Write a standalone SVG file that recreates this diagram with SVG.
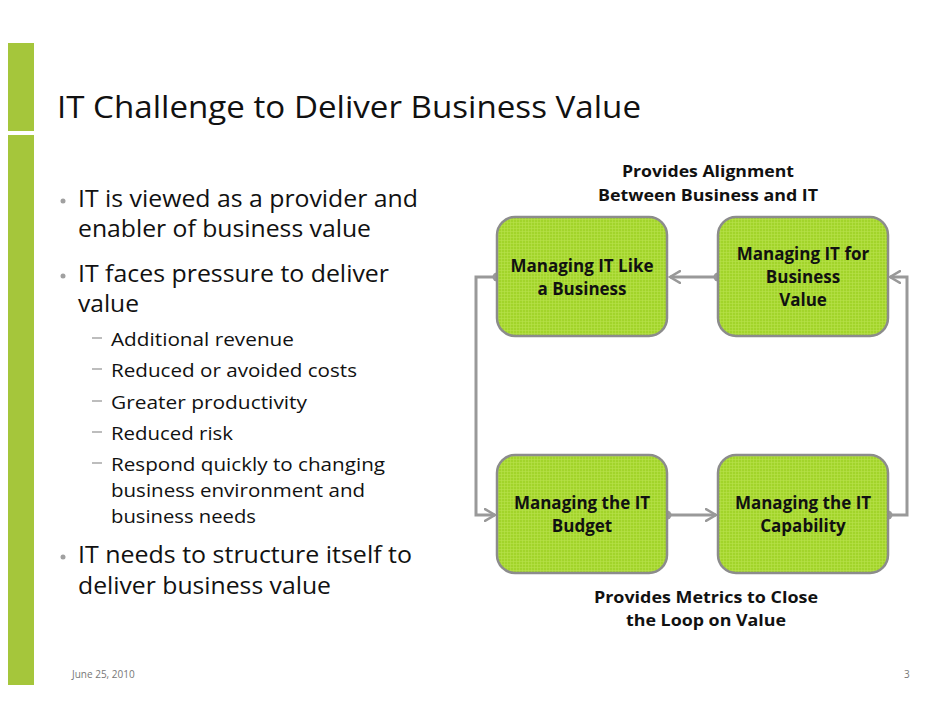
<svg xmlns="http://www.w3.org/2000/svg" width="942" height="728" viewBox="0 0 942 728">
<defs>
<style>
.t{font-family:"Open Sans","Liberation Sans",sans-serif;fill:#111;}
.title{font-size:31px;}
.b1{font-size:23px;}
.b2{font-size:19px;}
.dot{fill:#a0a0a0;}
.dash{stroke:#999;stroke-width:1.3;}
.lbl{font-family:"Open Sans","Liberation Sans",sans-serif;font-weight:bold;font-size:16px;fill:#111;text-anchor:middle;}
.nl{font-size:17px;}
.box{stroke:#8c8c8c;stroke-width:2.5;}
.con{fill:none;stroke:#999;stroke-width:3;}
.foot{font-family:"Open Sans","Liberation Sans",sans-serif;font-size:10px;fill:#777;}
</style>
<pattern id="grid" width="3" height="3" patternUnits="userSpaceOnUse">
<rect width="3" height="3" fill="#a2d42a"/>
<path d="M0 0.5H3M0.5 0V3" stroke="#b9e04c" stroke-width="0.6"/>
</pattern>
<marker id="arr" markerWidth="13" markerHeight="14" refX="11" refY="7" orient="auto" markerUnits="userSpaceOnUse">
<path d="M0 0.5L11 7L0 13.5" fill="none" stroke="#999" stroke-width="2.5"/>
</marker>
</defs>
<rect width="942" height="728" fill="#fff"/>
<rect x="8" y="43" width="26" height="88" fill="#a5c63b"/>
<rect x="8" y="135" width="26" height="550" fill="#a5c63b"/>
<text class="t title" x="57" y="118" textLength="584" lengthAdjust="spacingAndGlyphs">IT Challenge to Deliver Business Value</text>
<g id="bullets">
<circle class="dot" cx="63" cy="201" r="2.5"/>
<text class="t b1" x="78" y="207" textLength="340" lengthAdjust="spacingAndGlyphs">IT is viewed as a provider and</text>
<text class="t b1" x="78" y="237" textLength="293" lengthAdjust="spacingAndGlyphs">enabler of business value</text>
<circle class="dot" cx="63" cy="276" r="2.5"/>
<text class="t b1" x="78" y="282" textLength="311" lengthAdjust="spacingAndGlyphs">IT faces pressure to deliver</text>
<text class="t b1" x="78" y="312" textLength="61" lengthAdjust="spacingAndGlyphs">value</text>
<line class="dash" x1="92" y1="338" x2="102" y2="338"/>
<text class="t b2" x="111" y="346" textLength="183" lengthAdjust="spacingAndGlyphs">Additional revenue</text>
<line class="dash" x1="92" y1="369" x2="102" y2="369"/>
<text class="t b2" x="111" y="377" textLength="246" lengthAdjust="spacingAndGlyphs">Reduced or avoided costs</text>
<line class="dash" x1="92" y1="401" x2="102" y2="401"/>
<text class="t b2" x="111" y="409" textLength="196" lengthAdjust="spacingAndGlyphs">Greater productivity</text>
<line class="dash" x1="92" y1="432" x2="102" y2="432"/>
<text class="t b2" x="111" y="440" textLength="122" lengthAdjust="spacingAndGlyphs">Reduced risk</text>
<line class="dash" x1="92" y1="463" x2="102" y2="463"/>
<text class="t b2" x="111" y="471" textLength="274" lengthAdjust="spacingAndGlyphs">Respond quickly to changing</text>
<text class="t b2" x="111" y="497" textLength="254" lengthAdjust="spacingAndGlyphs">business environment and</text>
<text class="t b2" x="111" y="523" textLength="145" lengthAdjust="spacingAndGlyphs">business needs</text>
<circle class="dot" cx="63" cy="557" r="2.5"/>
<text class="t b1" x="78" y="563" textLength="334" lengthAdjust="spacingAndGlyphs">IT needs to structure itself to</text>
<text class="t b1" x="78" y="594" textLength="253" lengthAdjust="spacingAndGlyphs">deliver business value</text>
</g>
<text class="lbl" x="708" y="177" textLength="172" lengthAdjust="spacingAndGlyphs">Provides Alignment</text>
<text class="lbl" x="708" y="201" textLength="220" lengthAdjust="spacingAndGlyphs">Between Business and IT</text>
<text class="lbl" x="706" y="603" textLength="224" lengthAdjust="spacingAndGlyphs">Provides Metrics to Close</text>
<text class="lbl" x="706" y="626" textLength="160" lengthAdjust="spacingAndGlyphs">the Loop on Value</text>
<g id="connectors">
<path class="con" d="M718 277H670" marker-end="url(#arr)"/>
<path class="con" d="M497 277H476V515H495" marker-end="url(#arr)"/>
<path class="con" d="M667 515H716" marker-end="url(#arr)"/>
<path class="con" d="M888 515H907V277H890" marker-end="url(#arr)"/>
<circle cx="718" cy="277" r="4.5" fill="#999"/>
<circle cx="497" cy="277" r="4.5" fill="#999"/>
<circle cx="667" cy="515" r="4.5" fill="#999"/>
<circle cx="888" cy="515" r="4.5" fill="#999"/>
</g>
<g id="n1">
<rect class="box" x="497" y="217" width="170" height="119" rx="18" fill="url(#grid)"/>
<text class="lbl nl" x="582" y="272">Managing IT Like</text>
<text class="lbl nl" x="582" y="295">a Business</text>
</g>
<g id="n2">
<rect class="box" x="718" y="217" width="170" height="119" rx="18" fill="url(#grid)"/>
<text class="lbl nl" x="803" y="260">Managing IT for</text>
<text class="lbl nl" x="803" y="283">Business</text>
<text class="lbl nl" x="803" y="306">Value</text>
</g>
<g id="n3">
<rect class="box" x="497" y="455" width="170" height="118" rx="18" fill="url(#grid)"/>
<text class="lbl nl" x="582" y="509">Managing the IT</text>
<text class="lbl nl" x="582" y="532">Budget</text>
</g>
<g id="n4">
<rect class="box" x="718" y="455" width="170" height="118" rx="18" fill="url(#grid)"/>
<text class="lbl nl" x="803" y="509">Managing the IT</text>
<text class="lbl nl" x="803" y="532">Capability</text>
</g>
<text class="foot" x="72" y="678">June 25, 2010</text>
<text class="foot" x="904" y="678">3</text>
</svg>
